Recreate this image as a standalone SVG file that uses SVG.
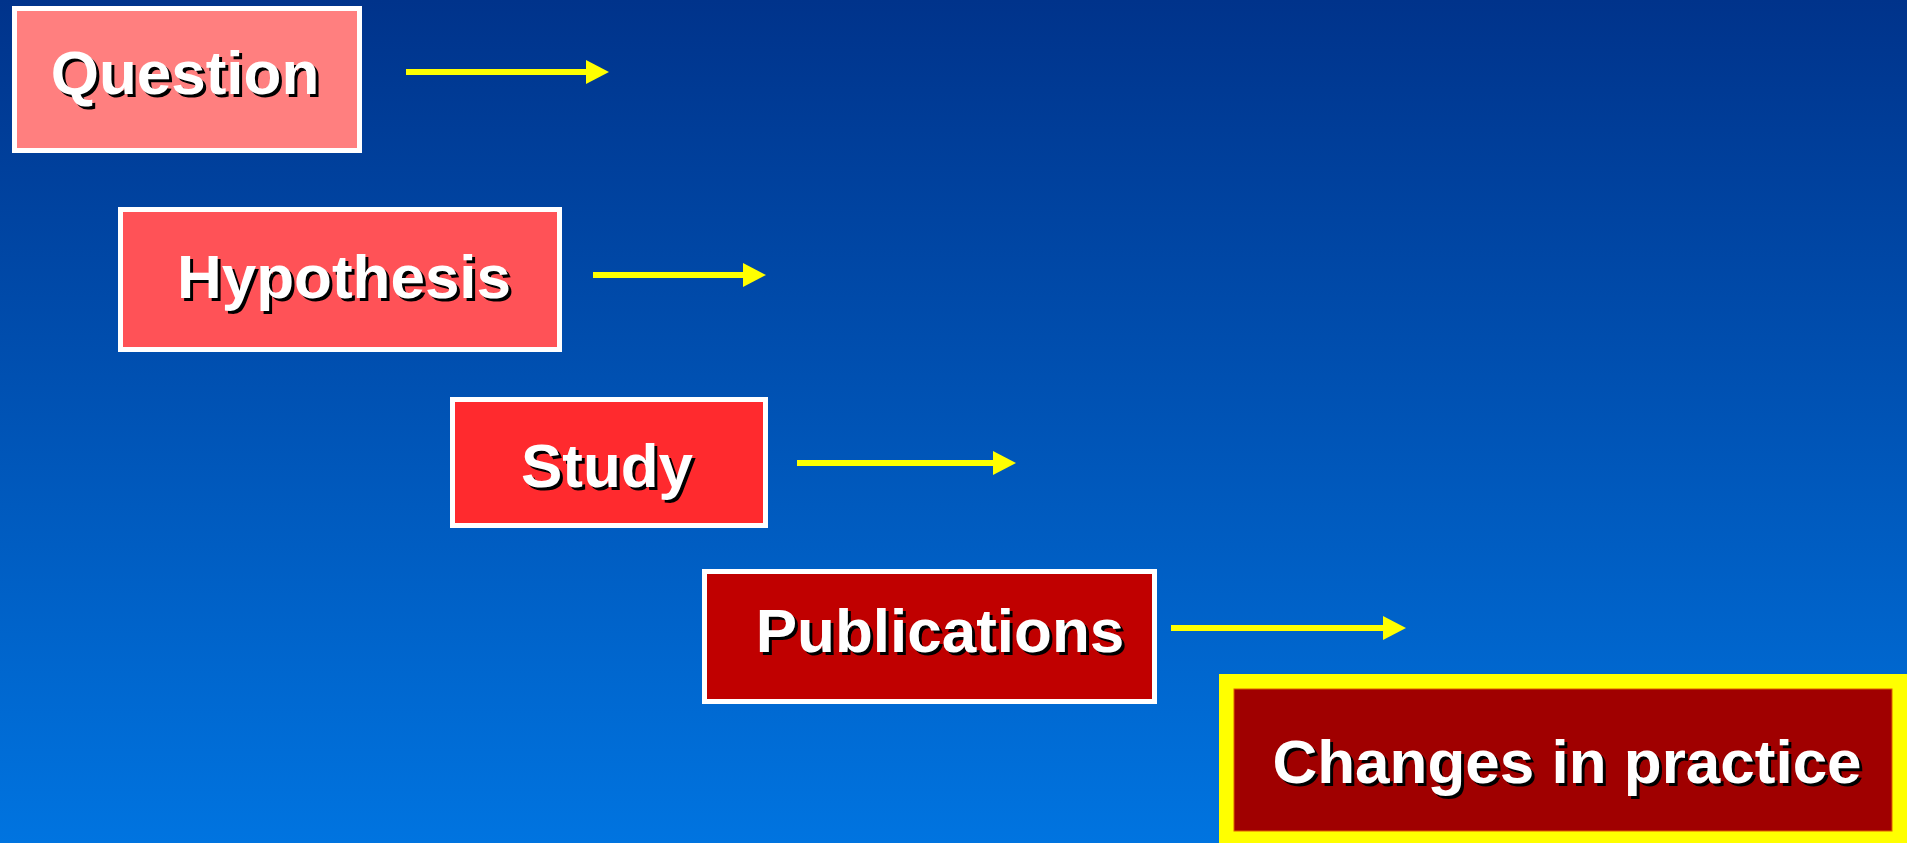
<svg xmlns="http://www.w3.org/2000/svg" width="1907" height="843" viewBox="0 0 1907 843">
  <defs>
    <linearGradient id="bg" x1="0" y1="0" x2="0" y2="1">
      <stop offset="0" stop-color="#00338B"/>
      <stop offset="1" stop-color="#0074E0"/>
    </linearGradient>
    <marker id="head" viewBox="0 0 23 24" markerWidth="23" markerHeight="24" refX="0" refY="12" orient="auto" markerUnits="userSpaceOnUse">
      <path d="M0,0 L23,12 L0,24 Z" fill="#FFFF00"/>
    </marker>
  </defs>
  <style>
    .box { stroke: #FFFFFF; stroke-width: 5; }
    .lbl { font-family: "Liberation Sans", Arial, sans-serif; font-weight: bold; font-size: 62px; text-anchor: middle; }
    .shadow { fill: #000000; }
    .txt { fill: #FFFFFF; }
    .arrow { stroke: #FFFF00; stroke-width: 6; fill: none; marker-end: url(#head); }
  </style>
  <rect x="0" y="0" width="1907" height="843" fill="url(#bg)"/>

  <g id="connectors">
    <line class="arrow" x1="406" y1="72" x2="586" y2="72"/>
    <line class="arrow" x1="593" y1="275" x2="743" y2="275"/>
    <line class="arrow" x1="797" y1="463" x2="993" y2="463"/>
    <line class="arrow" x1="1171" y1="628" x2="1383" y2="628"/>
  </g>

  <g id="question">
    <rect class="box" x="14.5" y="8.5" width="345" height="142" fill="#FF7F7F"/>
    <text class="lbl shadow" x="188" y="97">Question</text>
    <text class="lbl txt" x="185" y="94">Question</text>
  </g>

  <g id="hypothesis">
    <rect class="box" x="120.5" y="209.5" width="439" height="140" fill="#FF5257"/>
    <text class="lbl shadow" x="347" y="301">Hypothesis</text>
    <text class="lbl txt" x="344" y="298">Hypothesis</text>
  </g>

  <g id="study">
    <rect class="box" x="452.5" y="399.5" width="313" height="126" fill="#FF2A2E"/>
    <text class="lbl shadow" x="610" y="490">Study</text>
    <text class="lbl txt" x="607" y="487">Study</text>
  </g>

  <g id="publications">
    <rect class="box" x="704.5" y="571.5" width="450" height="130" fill="#C00000"/>
    <text class="lbl shadow" x="943" y="655">Publications</text>
    <text class="lbl txt" x="940" y="652">Publications</text>
  </g>

  <g id="changes">
    <rect x="1219" y="674" width="700" height="180" fill="#FFFF00"/>
    <rect x="1234" y="689" width="658" height="142" fill="#A00000" stroke="#E06000" stroke-width="1"/>
    <text class="lbl shadow" x="1570" y="786">Changes in practice</text>
    <text class="lbl txt" x="1567" y="783">Changes in practice</text>
  </g>
</svg>
